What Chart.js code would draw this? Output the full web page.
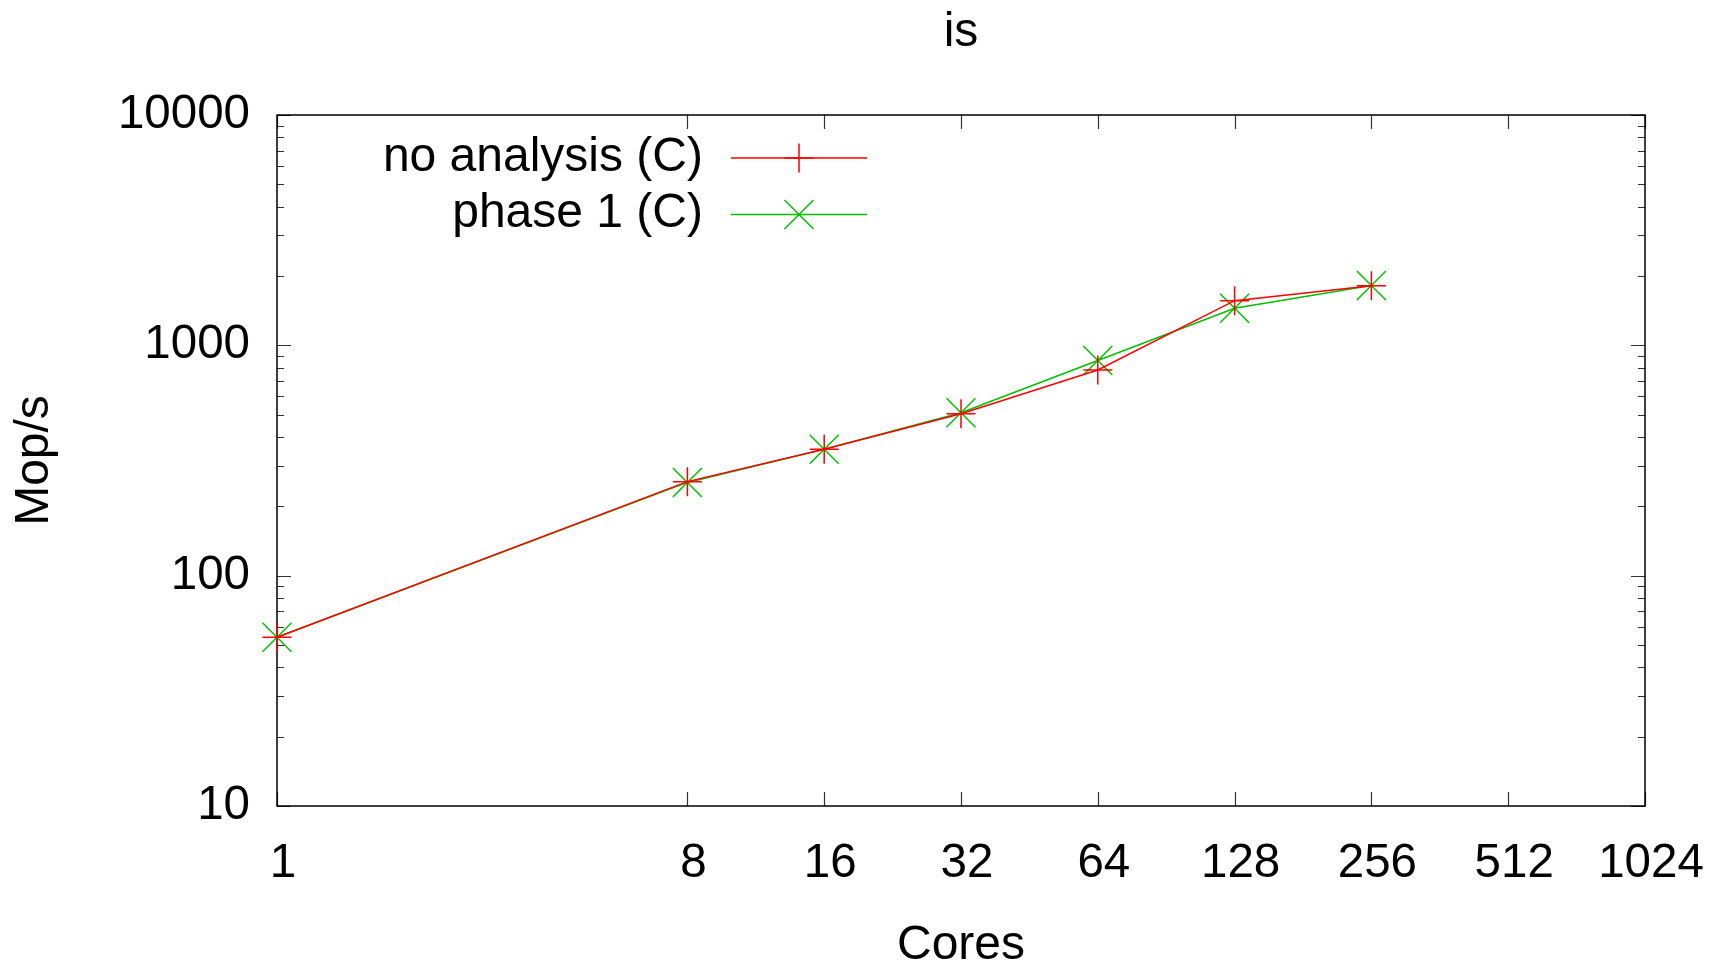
<!DOCTYPE html>
<html>
<head>
<meta charset="utf-8">
<script src="https://cdn.jsdelivr.net/npm/chart.js@4/dist/chart.umd.min.js"></script>
<style>
  html, body { margin: 0; padding: 0; background: #fff; overflow: hidden; }
  canvas { display: block; }
</style>
</head>
<body>
<canvas id="c" width="1711" height="964"></canvas>
<script>
// ---- data ----
const cores = [1, 8, 16, 32, 64, 128, 256];
const noAnalysis = [54, 256, 354, 505, 782, 1563, 1816];
const phase1 = [54, 254, 354, 510, 859, 1449, 1820];
const xTickValues = [1, 8, 16, 32, 64, 128, 256, 512, 1024];
const yTickValues = [10, 100, 1000, 10000];
const seriesNames = ['no analysis (C)', 'phase 1 (C)'];
const chartTitle = 'is';
const xTitle = 'Cores';
const yTitle = 'Mop/s';

Chart.defaults.font.family = '"Liberation Sans", Arial, Helvetica, sans-serif';
Chart.defaults.color = '#000';

const toPoints = (xs, ys) => xs.map((v, i) => ({ x: v, y: ys[i] }));

const framePlugin = {
  id: 'frame',
  beforeDatasetsDraw(chart) {
    const { ctx, chartArea: a, scales: { x, y } } = chart;
    ctx.save();
    ctx.strokeStyle = 'rgba(0,0,0,0.8)';
    ctx.lineWidth = 1.2;
    ctx.beginPath();
    for (let i = 0; i < yTickValues.length - 1; i++) {
      for (let m = 2; m <= 9; m++) {
        const py = Math.round(y.getPixelForValue(yTickValues[i] * m)) + 0.5;
        ctx.moveTo(a.left, py); ctx.lineTo(a.left + 7, py);
        ctx.moveTo(a.right, py); ctx.lineTo(a.right - 7, py);
      }
    }
    yTickValues.forEach(v => {
      const py = Math.round(y.getPixelForValue(v)) + 0.5;
      ctx.moveTo(a.left, py); ctx.lineTo(a.left + 14, py);
      ctx.moveTo(a.right, py); ctx.lineTo(a.right - 14, py);
    });
    xTickValues.forEach(v => {
      const px = Math.round(x.getPixelForValue(v)) + 0.5;
      ctx.moveTo(px, a.bottom); ctx.lineTo(px, a.bottom - 14);
      ctx.moveTo(px, a.top); ctx.lineTo(px, a.top + 14);
    });
    ctx.stroke();
    ctx.strokeStyle = '#000';
    ctx.lineWidth = 1.5;
    ctx.strokeRect(a.left, a.top, a.right - a.left, a.bottom - a.top);
    ctx.restore();
  },
  afterDraw(chart) {
    const { ctx, chartArea: a } = chart;
    const rows = [
      { textY: a.top + 43, lineY: a.top + 43 },
      { textY: a.top + 99, lineY: a.top + 99.5 }
    ];
    const textRight = a.left + 426;
    const lineL = a.left + 454, lineR = a.left + 590, mark = a.left + 522;
    ctx.save();
    chart.data.datasets.forEach((ds, i) => {
      const r = rows[i];
      ctx.fillStyle = '#000';
      ctx.font = '48px "Liberation Sans", Arial, sans-serif';
      ctx.textAlign = 'right';
      ctx.textBaseline = 'middle';
      ctx.fillText(ds.label, textRight, r.textY);
      ctx.strokeStyle = ds.borderColor;
      ctx.lineWidth = ds.borderWidth;
      ctx.beginPath();
      ctx.moveTo(lineL, r.lineY); ctx.lineTo(lineR, r.lineY);
      ctx.stroke();
      ctx.strokeStyle = ds.pointBorderColor;
      ctx.lineWidth = ds.pointBorderWidth;
      Chart.helpers.drawPoint(ctx, {
        pointStyle: ds.pointStyle, radius: ds.pointRadius,
        borderWidth: ds.pointBorderWidth, rotation: 0
      }, mark, r.lineY);
    });
    ctx.restore();
  }
};

new Chart(document.getElementById('c'), {
  type: 'line',
  data: {
    datasets: [
      {
        label: seriesNames[0],
        data: toPoints(cores, noAnalysis),
        borderColor: '#ff0000',
        borderWidth: 1.5,
        pointStyle: 'cross',
        pointRadius: 14.5,
        pointBorderColor: '#ff0000',
        pointBorderWidth: 1.5,
        pointBackgroundColor: '#ff0000',
        fill: false,
        tension: 0,
        clip: false
      },
      {
        label: seriesNames[1],
        data: toPoints(cores, phase1),
        borderColor: '#00c000',
        borderWidth: 1.5,
        pointStyle: 'crossRot',
        pointRadius: 20.5,
        pointBorderColor: '#00c000',
        pointBorderWidth: 1.5,
        pointBackgroundColor: '#00c000',
        fill: false,
        tension: 0,
        clip: false
      }
    ]
  },
  options: {
    responsive: false,
    devicePixelRatio: 1,
    animation: false,
    layout: { padding: { left: 0, right: 66, top: 0, bottom: 0 } },
    plugins: {
      legend: { display: false },
      tooltip: { enabled: false },
      title: {
        display: true,
        text: chartTitle,
        fullSize: false,
        color: '#000',
        font: { size: 48, weight: 'normal', lineHeight: 1.2 },
        padding: { top: 4, bottom: 53.4 }
      }
    },
    scales: {
      x: {
        type: 'logarithmic',
        position: 'bottom',
        min: 1,
        max: 1024,
        grid: { display: false },
        border: { display: false },
        afterBuildTicks: (s) => { s.ticks = xTickValues.map(v => ({ value: v })); },
        afterFit: (s) => { s.height = 158; s.paddingLeft = 0; s.paddingRight = 0; },
        ticks: {
          autoSkip: false,
          maxRotation: 0,
          padding: 21,
          labelOffset: 6,
          color: '#000',
          font: { size: 47.5, lineHeight: 1.2 },
          callback: (v) => String(v)
        },
        title: {
          display: true,
          text: xTitle,
          color: '#000',
          font: { size: 48, lineHeight: 0.76 },
          padding: { top: 0, bottom: 0 }
        }
      },
      y: {
        type: 'logarithmic',
        position: 'left',
        min: 10,
        max: 10000,
        grid: { display: false },
        border: { display: false },
        afterBuildTicks: (s) => { s.ticks = yTickValues.map(v => ({ value: v })); },
        afterFit: (s) => { s.width = 277; s.paddingTop = 0; s.paddingBottom = 0; },
        ticks: {
          autoSkip: false,
          padding: 19,
          labelOffset: 0,
          color: '#000',
          font: { size: 47.5, lineHeight: 1.2 },
          callback: (v) => String(v)
        },
        title: {
          display: true,
          text: yTitle,
          color: '#000',
          font: { size: 48, lineHeight: 1 },
          padding: { top: 10.3, bottom: 0 }
        }
      }
    }
  },
  plugins: [framePlugin]
});
</script>
</body>
</html>
